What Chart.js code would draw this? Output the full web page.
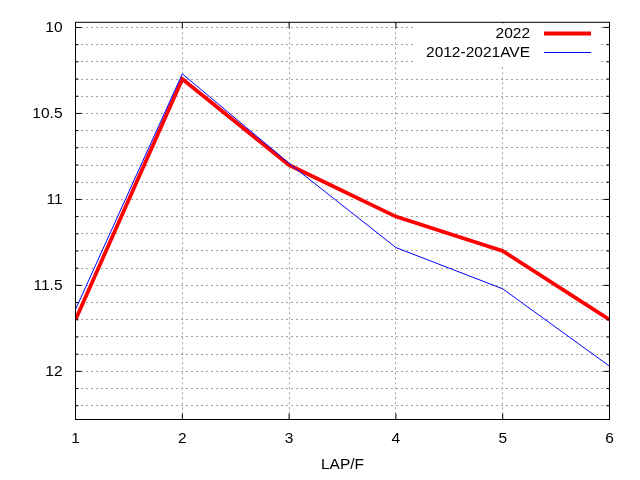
<!DOCTYPE html>
<html lang="en">
<head>
  <meta charset="UTF-8">
  <title>LAP/F</title>
  <script src="https://cdn.jsdelivr.net/npm/chart.js@4.4.0/dist/chart.umd.min.js"></script>
  <style>
    body { margin: 0; background: #fff; }
  </style>
</head>
<body>
  <canvas id="chart" width="640" height="480"></canvas>
  <script>
    // values
    const laps = [1, 2, 3, 4, 5, 6];
    const y2022 = [11.70, 10.30, 10.80, 11.10, 11.30, 11.70];
    const yAve = [11.64, 10.27, 10.79, 11.28, 11.52, 11.97];
    const yTickLabels = [10, 10.5, 11, 11.5, 12];
    const yMin = 9.97, yMax = 12.28;

    const FONT = { family: '"Liberation Sans", Arial, sans-serif', size: 15.5 };

    // minor grid every 0.1
    const yGrid = [];
    for (let i = 0; i <= 22; i++) yGrid.push(Math.round((10 + i / 10) * 10) / 10);

    // frame, inward tics and gnuplot-like key
    const framePlugin = {
      id: 'frame',
      afterDraw(chart) {
        const { ctx, chartArea: a, scales } = chart;
        ctx.save();
        ctx.strokeStyle = '#000';
        ctx.lineWidth = 1;
        ctx.strokeRect(a.left, a.top, a.right - a.left, a.bottom - a.top);
        ctx.beginPath();
        yGrid.forEach(v => {
          const y = scales.y.getPixelForValue(v);
          const len = yTickLabels.includes(v) ? 6 : 3;
          ctx.moveTo(a.left, y); ctx.lineTo(a.left + len, y);
          ctx.moveTo(a.right, y); ctx.lineTo(a.right - len, y);
        });
        laps.forEach(v => {
          const x = scales.x.getPixelForValue(v);
          ctx.moveTo(x, a.bottom); ctx.lineTo(x, a.bottom - 6);
          ctx.moveTo(x, a.top); ctx.lineTo(x, a.top + 6);
        });
        ctx.stroke();

        // key
        ctx.fillStyle = '#fff';
        ctx.fillRect(413, a.top + 1, 186, 42);
        ctx.font = FONT.size + 'px ' + FONT.family;
        ctx.textAlign = 'right';
        ctx.textBaseline = 'middle';
        chart.data.datasets.forEach((ds, i) => {
          const y = 33.5 + i * 19;
          ctx.fillStyle = '#000';
          ctx.fillText(ds.label, 530, y);
          ctx.strokeStyle = ds.borderColor;
          ctx.lineWidth = ds.borderWidth;
          ctx.beginPath();
          ctx.moveTo(544, y); ctx.lineTo(591, y);
          ctx.stroke();
        });
        ctx.restore();
      }
    };

    new Chart(document.getElementById('chart'), {
      type: 'line',
      data: {
        datasets: [
          {
            label: '2022',
            data: laps.map((x, i) => ({ x, y: y2022[i] })),
            borderColor: '#ff0000',
            borderWidth: 3.8,
            pointRadius: 0,
            tension: 0,
            order: 1
          },
          {
            label: '2012-2021AVE',
            data: laps.map((x, i) => ({ x, y: yAve[i] })),
            borderColor: '#0000ff',
            borderWidth: 1,
            pointRadius: 0,
            tension: 0,
            order: 0
          }
        ]
      },
      options: {
        responsive: false,
        devicePixelRatio: 1,
        animation: false,
        layout: { padding: { left: 0, top: 19.5, right: 30.5, bottom: 0 } },
        plugins: { legend: { display: false }, tooltip: { enabled: false } },
        scales: {
          x: {
            type: 'linear',
            min: 1,
            max: 6,
            afterFit: s => { s.height = 60.5; },
            ticks: { stepSize: 1, color: '#000', font: FONT, padding: 10, maxRotation: 0 },
            grid: { color: '#a0a0a0', drawTicks: false },
            border: { display: false, dash: [2, 3] },
            title: { display: true, text: 'LAP/F', color: '#000', font: FONT, padding: { top: 0, bottom: 6 } }
          },
          y: {
            reverse: true,
            min: yMin,
            max: yMax,
            afterFit: s => { s.width = 75.5; },
            afterBuildTicks: s => { s.ticks = yGrid.map(v => ({ value: v })); },
            ticks: {
              autoSkip: false,
              color: '#000',
              font: FONT,
              padding: 13,
              callback: v => yTickLabels.includes(v) ? String(v) : ''
            },
            grid: { color: '#a0a0a0', drawTicks: false },
            border: { display: false, dash: [2, 3] }
          }
        }
      },
      plugins: [framePlugin]
    });
  </script>
</body>
</html>
